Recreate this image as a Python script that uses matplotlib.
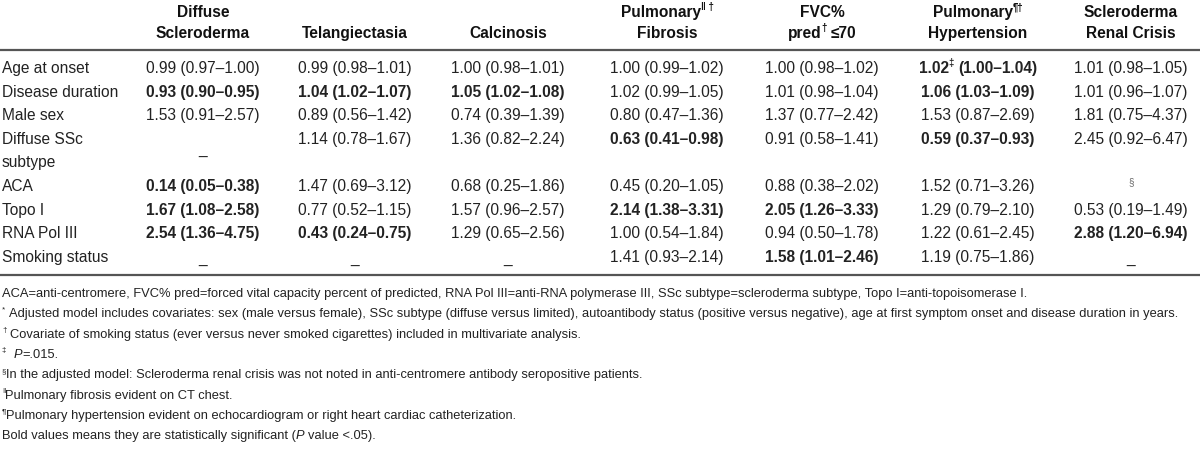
import re

import matplotlib
matplotlib.use("Agg")
import matplotlib.pyplot as plt

plt.rcParams["font.family"] = ["Liberation Sans", "DejaVu Sans"]

# ---- table data -------------------------------------------------------------
col_headers = [
    "Diffuse\nScleroderma",
    "Telangiectasia",
    "Calcinosis",
    "Pulmonary^{‖ †}\nFibrosis",
    "FVC%\npred^{†} ≤70",
    "Pulmonary^{¶†}\nHypertension",
    "Scleroderma\nRenal Crisis",
]

row_labels = [
    "Age at onset",
    "Disease duration",
    "Male sex",
    "Diffuse SSc\nsubtype",
    "ACA",
    "Topo I",
    "RNA Pol III",
    "Smoking status",
]

age_onset = ["0.99 (0.97–1.00)", "0.99 (0.98–1.01)", "1.00 (0.98–1.01)", "1.00 (0.99–1.02)",
             "1.00 (0.98–1.02)", "1.02^{‡} (1.00–1.04)", "1.01 (0.98–1.05)"]
disease_duration = ["0.93 (0.90–0.95)", "1.04 (1.02–1.07)", "1.05 (1.02–1.08)", "1.02 (0.99–1.05)",
                    "1.01 (0.98–1.04)", "1.06 (1.03–1.09)", "1.01 (0.96–1.07)"]
male_sex = ["1.53 (0.91–2.57)", "0.89 (0.56–1.42)", "0.74 (0.39–1.39)", "0.80 (0.47–1.36)",
            "1.37 (0.77–2.42)", "1.53 (0.87–2.69)", "1.81 (0.75–4.37)"]
diffuse_ssc = ["_", "1.14 (0.78–1.67)", "1.36 (0.82–2.24)", "0.63 (0.41–0.98)",
               "0.91 (0.58–1.41)", "0.59 (0.37–0.93)", "2.45 (0.92–6.47)"]
aca = ["0.14 (0.05–0.38)", "1.47 (0.69–3.12)", "0.68 (0.25–1.86)", "0.45 (0.20–1.05)",
       "0.88 (0.38–2.02)", "1.52 (0.71–3.26)", "^{§}"]
topo_i = ["1.67 (1.08–2.58)", "0.77 (0.52–1.15)", "1.57 (0.96–2.57)", "2.14 (1.38–3.31)",
          "2.05 (1.26–3.33)", "1.29 (0.79–2.10)", "0.53 (0.19–1.49)"]
rna_pol_iii = ["2.54 (1.36–4.75)", "0.43 (0.24–0.75)", "1.29 (0.65–2.56)", "1.00 (0.54–1.84)",
               "0.94 (0.50–1.78)", "1.22 (0.61–2.45)", "2.88 (1.20–6.94)"]
smoking = ["_", "_", "_", "1.41 (0.93–2.14)", "1.58 (1.01–2.46)", "1.19 (0.75–1.86)", "_"]

# 1 = statistically significant (bold)
age_onset_bold = [0, 0, 0, 0, 0, 1, 0]
disease_duration_bold = [1, 1, 1, 0, 0, 1, 0]
male_sex_bold = [0, 0, 0, 0, 0, 0, 0]
diffuse_ssc_bold = [0, 0, 0, 1, 0, 1, 0]
aca_bold = [1, 0, 0, 0, 0, 0, 0]
topo_i_bold = [1, 0, 0, 1, 1, 0, 0]
rna_pol_iii_bold = [1, 1, 0, 0, 0, 0, 1]
smoking_bold = [0, 0, 0, 0, 1, 0, 0]

footnotes = [
    "ACA=anti-centromere, FVC% pred=forced vital capacity percent of predicted, RNA Pol III=anti-RNA polymerase III, "
    "SSc subtype=scleroderma subtype, Topo I=anti-topoisomerase I.",
    "^{*} Adjusted model includes covariates: sex (male versus female), SSc subtype (diffuse versus limited), "
    "autoantibody status (positive versus negative), age at first symptom onset and disease duration in years.",
    "^{†} Covariate of smoking status (ever versus never smoked cigarettes) included in multivariate analysis.",
    "^{‡} ~{P}=.015.",
    "^{§}In the adjusted model: Scleroderma renal crisis was not noted in anti-centromere antibody seropositive patients.",
    "^{‖}Pulmonary fibrosis evident on CT chest.",
    "^{¶}Pulmonary hypertension evident on echocardiogram or right heart cardiac catheterization.",
    "Bold values means they are statistically significant (~{P} value <.05).",
]

# ---- layout ------------------------------------------------------------------
W, H = 1200, 453
col_x = [203, 355, 508, 667, 822, 978, 1131]
label_x = 2
row_y0, row_dy = 68, 23.6
foot_y0, foot_dy = 293, 20.3
body_fs = 11.2
foot_fs = 9.3
ink = "#222222"

fig = plt.figure(figsize=(W / 100, H / 100), dpi=100)
ax = fig.add_axes([0, 0, 1, 1])
ax.set_xlim(0, W)
ax.set_ylim(H, 0)
ax.axis("off")
renderer = fig.canvas.get_renderer()

token_re = re.compile(r"(\^\{[^}]*\}|~\{[^}]*\})")


def rich_text(x, y, s, fs, weight="normal", ha="center", color=ink):
    """Draw s with ^{..} superscripts and ~{..} italics, baseline at y."""
    parts = [p for p in token_re.split(s) if p]
    pieces = []
    cursor = 0.0
    space_w = fs * 100 / 72 * 0.278
    for p in parts:
        size, style, dy = fs, "normal", 0.0
        if p.startswith("^{"):
            p = p[2:-1]
            size = fs * 0.62
            dy = -fs * 100 / 72 * 0.42
        elif p.startswith("~{"):
            p = p[2:-1]
            style = "italic"
        lead = len(p) - len(p.lstrip(" "))
        trail = len(p) - len(p.rstrip(" "))
        core = p.strip(" ")
        cursor += lead * space_w
        if core:
            t = ax.text(0, y + dy, core, fontsize=size, fontweight=weight, fontstyle=style,
                        ha="left", va="baseline", color=color)
            w = t.get_window_extent(renderer).width
            pieces.append((t, cursor))
            cursor += w
        cursor += trail * space_w
    x0 = x - cursor / 2 if ha == "center" else x
    for t, dx in pieces:
        t.set_x(x0 + dx)


# column headers
for cx, head in zip(col_x, col_headers):
    lines = head.split("\n")
    ys = [17, 38] if len(lines) == 2 else [38]
    for ln, yy in zip(lines, ys):
        rich_text(cx, yy, ln, body_fs, weight="bold", color="#111111")

ax.plot([0, W], [50, 50], color="#555555", lw=1.6, solid_capstyle="butt")
ax.plot([0, W], [275, 275], color="#555555", lw=1.6, solid_capstyle="butt")

rows = [age_onset, disease_duration, male_sex, diffuse_ssc, aca, topo_i, rna_pol_iii, smoking]
bolds = [age_onset_bold, disease_duration_bold, male_sex_bold, diffuse_ssc_bold, aca_bold,
         topo_i_bold, rna_pol_iii_bold, smoking_bold]
row_line = [0, 1, 2, 3, 5, 6, 7, 8]

for label, vals, bflags, li in zip(row_labels, rows, bolds, row_line):
    base = row_y0 + li * row_dy + 5
    for k, ln in enumerate(label.split("\n")):
        ax.text(label_x, base + k * row_dy, ln, fontsize=body_fs, ha="left", va="baseline", color=ink)
    for cx, v, b in zip(col_x, vals, bflags):
        if v == "_":
            yy = base + (row_dy * 0.45 if "\n" in label else 2)
            ax.text(cx, yy, "_", fontsize=body_fs, ha="center", va="baseline", color=ink)
        elif v.startswith("^{"):
            ax.text(cx, base - 6, v[2:-1], fontsize=body_fs * 0.62, ha="center", va="baseline", color="#666666")
        else:
            rich_text(cx, base, v, body_fs, weight="bold" if b else "normal")

for i, note in enumerate(footnotes):
    rich_text(label_x, foot_y0 + i * foot_dy + 4, note, foot_fs, ha="left")

fig.savefig("out.png", dpi=100, facecolor="white")
